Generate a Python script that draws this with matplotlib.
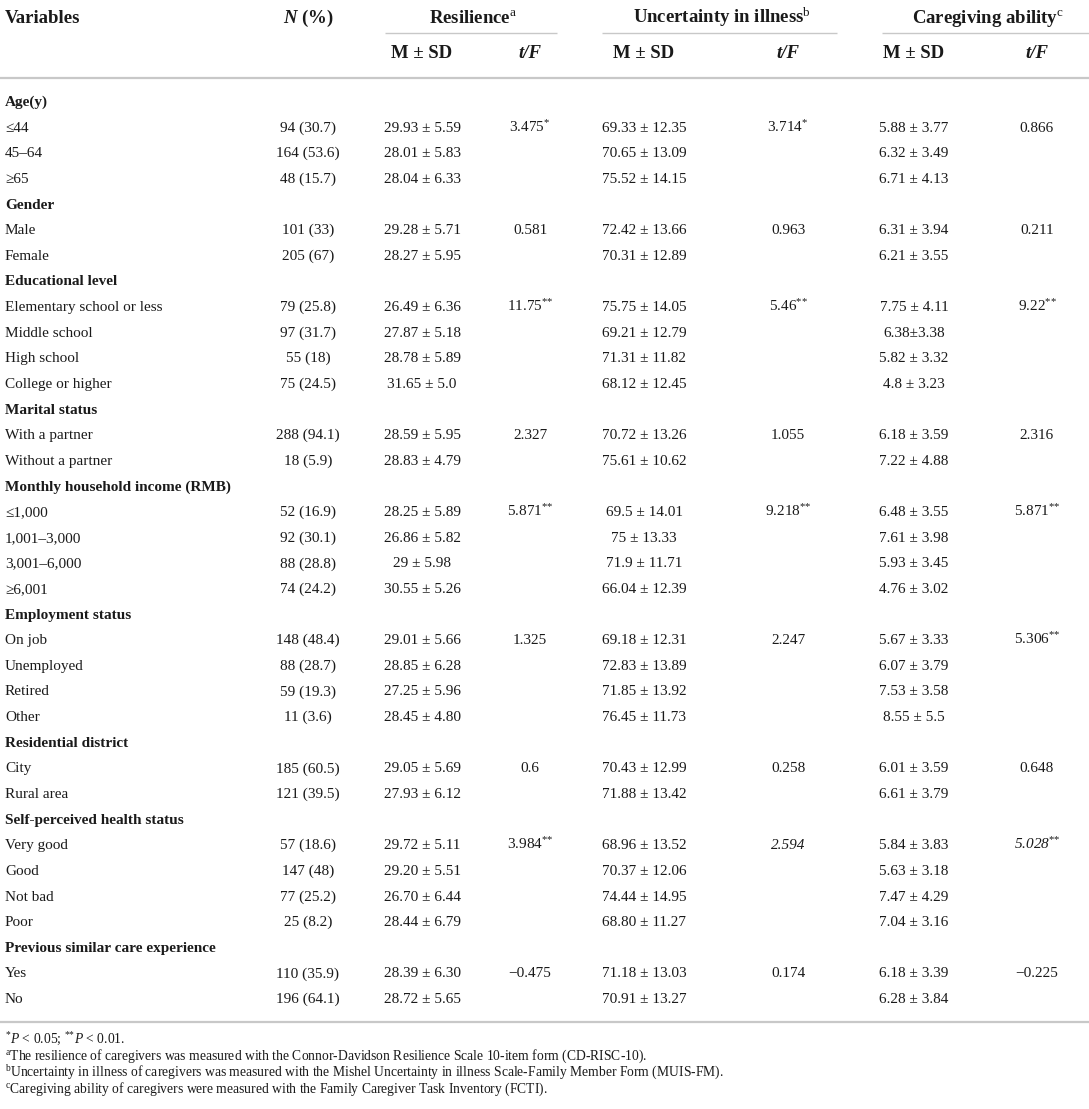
import matplotlib
matplotlib.use("Agg")
import matplotlib.pyplot as plt

plt.rcParams["font.family"] = ["Liberation Serif", "DejaVu Serif"]
plt.rcParams["mathtext.fontset"] = "custom"
plt.rcParams["mathtext.rm"] = "Liberation Serif"
plt.rcParams["mathtext.it"] = "Liberation Serif:italic"
plt.rcParams["mathtext.bf"] = "Liberation Serif:bold"
plt.rcParams["mathtext.bfit"] = "Liberation Serif:italic:bold"

# table rows; section headers have empty value cells
variables = [
    "Age(y)", "≤44", "45–64", "≥65",
    "Gender", "Male", "Female",
    "Educational level", "Elementary school or less", "Middle school", "High school", "College or higher",
    "Marital status", "With a partner", "Without a partner",
    "Monthly household income (RMB)", "≤1,000", "1,001–3,000", "3,001–6,000", "≥6,001",
    "Employment status", "On job", "Unemployed", "Retired", "Other",
    "Residential district", "City", "Rural area",
    "Self-perceived health status", "Very good", "Good", "Not bad", "Poor",
    "Previous similar care experience", "Yes", "No",
]
is_section = [
    1, 0, 0, 0,
    1, 0, 0,
    1, 0, 0, 0, 0,
    1, 0, 0,
    1, 0, 0, 0, 0,
    1, 0, 0, 0, 0,
    1, 0, 0,
    1, 0, 0, 0, 0,
    1, 0, 0,
]
n_pct = [
    "", "94 (30.7)", "164 (53.6)", "48 (15.7)",
    "", "101 (33)", "205 (67)",
    "", "79 (25.8)", "97 (31.7)", "55 (18)", "75 (24.5)",
    "", "288 (94.1)", "18 (5.9)",
    "", "52 (16.9)", "92 (30.1)", "88 (28.8)", "74 (24.2)",
    "", "148 (48.4)", "88 (28.7)", "59 (19.3)", "11 (3.6)",
    "", "185 (60.5)", "121 (39.5)",
    "", "57 (18.6)", "147 (48)", "77 (25.2)", "25 (8.2)",
    "", "110 (35.9)", "196 (64.1)",
]
res_msd = [
    "", "29.93 ± 5.59", "28.01 ± 5.83", "28.04 ± 6.33",
    "", "29.28 ± 5.71", "28.27 ± 5.95",
    "", "26.49 ± 6.36", "27.87 ± 5.18", "28.78 ± 5.89", "31.65 ± 5.0",
    "", "28.59 ± 5.95", "28.83 ± 4.79",
    "", "28.25 ± 5.89", "26.86 ± 5.82", "29 ± 5.98", "30.55 ± 5.26",
    "", "29.01 ± 5.66", "28.85 ± 6.28", "27.25 ± 5.96", "28.45 ± 4.80",
    "", "29.05 ± 5.69", "27.93 ± 6.12",
    "", "29.72 ± 5.11", "29.20 ± 5.51", "26.70 ± 6.44", "28.44 ± 6.79",
    "", "28.39 ± 6.30", "28.72 ± 5.65",
]
res_tf = [
    "", "3.475*", "", "",
    "", "0.581", "",
    "", "11.75**", "", "", "",
    "", "2.327", "",
    "", "5.871**", "", "", "",
    "", "1.325", "", "", "",
    "", "0.6", "",
    "", "3.984**", "", "", "",
    "", "−0.475", "",
]
unc_msd = [
    "", "69.33 ± 12.35", "70.65 ± 13.09", "75.52 ± 14.15",
    "", "72.42 ± 13.66", "70.31 ± 12.89",
    "", "75.75 ± 14.05", "69.21 ± 12.79", "71.31 ± 11.82", "68.12 ± 12.45",
    "", "70.72 ± 13.26", "75.61 ± 10.62",
    "", "69.5 ± 14.01", "75 ± 13.33", "71.9 ± 11.71", "66.04 ± 12.39",
    "", "69.18 ± 12.31", "72.83 ± 13.89", "71.85 ± 13.92", "76.45 ± 11.73",
    "", "70.43 ± 12.99", "71.88 ± 13.42",
    "", "68.96 ± 13.52", "70.37 ± 12.06", "74.44 ± 14.95", "68.80 ± 11.27",
    "", "71.18 ± 13.03", "70.91 ± 13.27",
]
unc_tf = [
    "", "3.714*", "", "",
    "", "0.963", "",
    "", "5.46**", "", "", "",
    "", "1.055", "",
    "", "9.218**", "", "", "",
    "", "2.247", "", "", "",
    "", "0.258", "",
    "", "2.594", "", "", "",
    "", "0.174", "",
]
care_msd = [
    "", "5.88 ± 3.77", "6.32 ± 3.49", "6.71 ± 4.13",
    "", "6.31 ± 3.94", "6.21 ± 3.55",
    "", "7.75 ± 4.11", "6.38±3.38", "5.82 ± 3.32", "4.8 ± 3.23",
    "", "6.18 ± 3.59", "7.22 ± 4.88",
    "", "6.48 ± 3.55", "7.61 ± 3.98", "5.93 ± 3.45", "4.76 ± 3.02",
    "", "5.67 ± 3.33", "6.07 ± 3.79", "7.53 ± 3.58", "8.55 ± 5.5",
    "", "6.01 ± 3.59", "6.61 ± 3.79",
    "", "5.84 ± 3.83", "5.63 ± 3.18", "7.47 ± 4.29", "7.04 ± 3.16",
    "", "6.18 ± 3.39", "6.28 ± 3.84",
]
care_tf = [
    "", "0.866", "", "",
    "", "0.211", "",
    "", "9.22**", "", "", "",
    "", "2.316", "",
    "", "5.871**", "", "", "",
    "", "5.306**", "", "", "",
    "", "0.648", "",
    "", "5.028**", "", "", "",
    "", "−0.225", "",
]
# cells printed in italics in the source table
italic_cells = [("unc_tf", 29), ("care_tf", 29)]

footnotes = [
    "$^{*}P$ < 0.05; $^{{*}{*}}P$ < 0.01.",
    "$^{\\mathrm{a}}$The resilience of caregivers was measured with the Connor-Davidson Resilience Scale 10-item form (CD-RISC-10).",
    "$^{\\mathrm{b}}$Uncertainty in illness of caregivers was measured with the Mishel Uncertainty in illness Scale-Family Member Form (MUIS-FM).",
    "$^{\\mathrm{c}}$Caregiving ability of caregivers were measured with the Family Caregiver Task Inventory (FCTI).",
]


def with_stars(s):
    base = s.rstrip("*")
    n = len(s) - len(base)
    return base + ("$^{" + "{*}" * n + "}$" if n else "")


W, H = 1089, 1109
fig = plt.figure(figsize=(W / 100, H / 100), dpi=100)
ax = fig.add_axes([0, 0, 1, 1])
ax.set_xlim(0, W)
ax.set_ylim(H, 0)
ax.axis("off")

ink = "#1a1a1a"
rule = "#c8c8c8"
fs = 11
fs_head = 13.5

# column anchors
x_var, x_n = 5, 308
cols = {
    "res_msd": 422, "res_tf": 530,
    "unc_msd": 644, "unc_tf": 788,
    "care_msd": 914, "care_tf": 1037,
}
groups = [
    ("Resilience$^{\\mathrm{a}}$", 385, 557),
    ("Uncertainty in illness$^{\\mathrm{b}}$", 602, 837),
    ("Caregiving ability$^{\\mathrm{c}}$", 882, W),
]

# header
y1, y2 = 23, 58
ax.text(x_var, y1, "Variables", fontsize=fs_head, fontweight="bold", color=ink, va="baseline")
ax.text(x_n, y1, "$\\mathbfit{N}$ (%)", fontsize=fs_head, fontweight="bold", color=ink,
        ha="center", va="baseline")
for title, x0, x1 in groups:
    ax.text((x0 + x1) / 2 + 2, y1, title, fontsize=fs_head, fontweight="bold", color=ink,
            ha="center", va="baseline")
    ax.plot([x0, x1], [32.5, 32.5], color=rule, lw=1.0, solid_capstyle="butt")
for key in ["res", "unc", "care"]:
    ax.text(cols[key + "_msd"], y2, "M ± SD", fontsize=fs_head, fontweight="bold", color=ink,
            ha="center", va="baseline")
    ax.text(cols[key + "_tf"], y2, "t/F", fontsize=fs_head, fontweight="bold", style="italic",
            color=ink, ha="center", va="baseline")
ax.plot([0, W], [77.5, 77.5], color=rule, lw=1.6, solid_capstyle="butt")

# body
row0, dy = 101, 25.63
data = {
    "res_msd": res_msd, "res_tf": res_tf,
    "unc_msd": unc_msd, "unc_tf": unc_tf,
    "care_msd": care_msd, "care_tf": care_tf,
}
for i, label in enumerate(variables):
    yb = row0 + i * dy + 5
    ax.text(x_var, yb, label, fontsize=fs, color=ink, va="baseline",
            fontweight="bold" if is_section[i] else "normal")
    if n_pct[i]:
        ax.text(x_n, yb, n_pct[i], fontsize=fs, color=ink, ha="center", va="baseline")
    for key, vals in data.items():
        if not vals[i]:
            continue
        style = "italic" if (key, i) in italic_cells else "normal"
        ax.text(cols[key], yb, with_stars(vals[i]), fontsize=fs, color=ink,
                ha="center", va="baseline", style=style)

ax.plot([0, W], [1022, 1022], color=rule, lw=1.6, solid_capstyle="butt")

for j, note in enumerate(footnotes):
    ax.text(x_var, 1044 + j * 16.2, note, fontsize=9.8, color=ink, va="baseline")

fig.savefig("out.png", dpi=100)
